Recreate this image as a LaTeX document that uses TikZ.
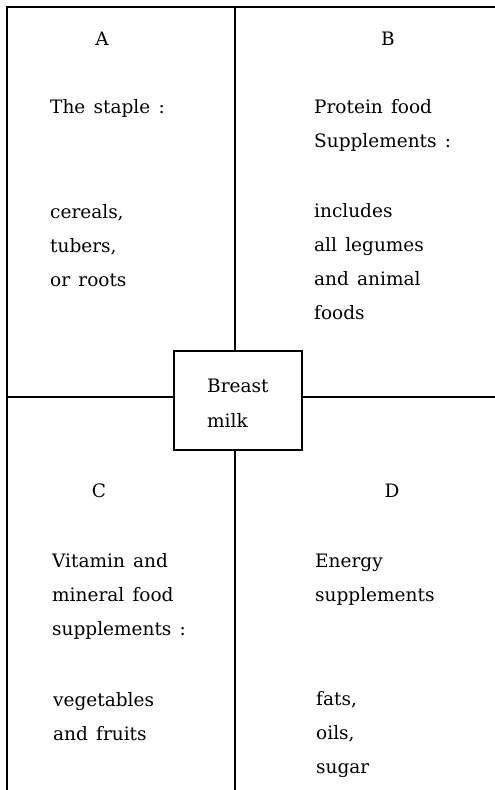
\documentclass[tikz,border=0pt]{standalone}
\usepackage{fontspec}
\setmainfont{DejaVu Serif}[WordSpace=1.4]
\begin{document}
\begin{tikzpicture}[x=1pt,y=-1pt,
  ln/.style={line width=1.2pt,line cap=rect},
  txt/.style={inner sep=0pt,anchor=base west,align=left,font=\fontsize{18.5}{34}\selectfont},
  lbl/.style={inner sep=0pt,anchor=base,font=\fontsize{18.5}{34}\selectfont},
  boxst/.style={draw,line width=1.2pt,minimum width=128pt,minimum height=99pt,inner sep=0pt}]
\useasboundingbox (0,0) rectangle (495,790);
% frame coordinates
\coordinate (tl) at (7,7);
\coordinate (tr) at (495,7);
\coordinate (bl) at (7,790);
\coordinate (tm) at (235,7);
\coordinate (bm) at (235,790);
\coordinate (ml) at (7,397);
\coordinate (mr) at (495,397);
\node[boxst] (box) at (238,400.5) {};
\draw[ln] (bl) -- (tl) -- (tr);
\draw[ln] (tm) -- (tm |- box.north);
\draw[ln] (bm |- box.south) -- (bm);
\draw[ln] (ml) -- (ml -| box.west);
\draw[ln] (mr -| box.east) -- (mr);
% box text (anchor = baseline of last line)
\node[txt,font=\fontsize{18.5}{35}\selectfont] (milk) at (207,427) {Breast\\milk};
% labels
\node[lbl] (A) at (102,45) {A};
\node[lbl] (B) at (388,45) {B};
\node[lbl] (C) at (99,497) {C};
\node[lbl] (D) at (392,497) {D};
% quadrant A
\node[txt] (a1) at (50,113) {The staple :};
\node[txt] (a2) at (50,286) {cereals,\\tubers,\\or roots};
% quadrant B
\node[txt] (b1) at (314,147) {Protein food\\Supplements :};
\node[txt] (b2) at (314,319) {includes\\all legumes\\and animal\\foods};
% quadrant C
\node[txt] (c1) at (52,635) {Vitamin and\\mineral food\\supplements :};
\node[txt] (c2) at (53,740) {vegetables\\and fruits};
% quadrant D
\node[txt] (d1) at (315,601) {Energy\\supplements};
\node[txt] (d2) at (316,773) {fats,\\oils,\\sugar};
\end{tikzpicture}
\end{document}
